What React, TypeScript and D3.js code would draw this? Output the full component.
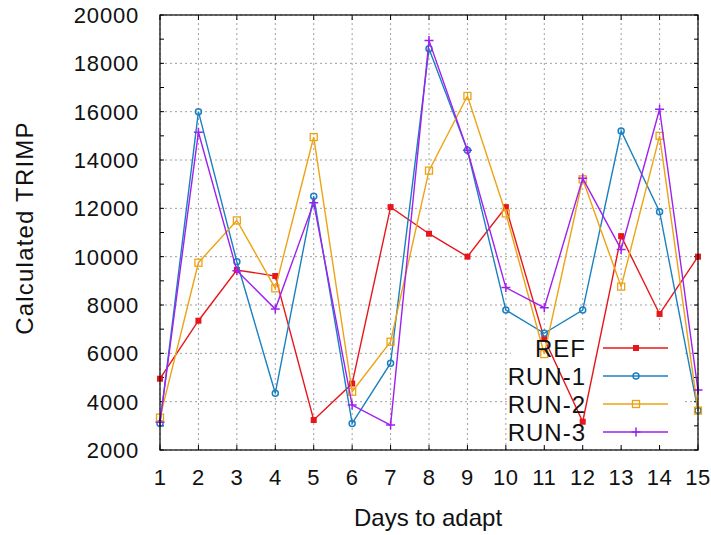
import * as d3 from 'd3';
import React from 'react';

const days = [1, 2, 3, 4, 5, 6, 7, 8, 9, 10, 11, 12, 13, 14, 15];
const refValues = [4950, 7350, 9450, 9200, 3240, 4750, 12050, 10950, 10000, 12050, 6600, 3170, 10850, 7630, 10000];
const run1Values = [3100, 16000, 9790, 4350, 12500, 3100, 5590, 18600, 14400, 7790, 6830, 7790, 15200, 11860, 3630];
const run2Values = [3340, 9750, 11500, 8690, 14950, 4410, 6480, 13560, 16650, 11790, 5970, 13200, 8760, 15000, 3630];
const run3Values = [3150, 15150, 9420, 7830, 12230, 3860, 3030, 18940, 14400, 8720, 7890, 13240, 10300, 16100, 4480];
const yTicks = [2000, 4000, 6000, 8000, 10000, 12000, 14000, 16000, 18000, 20000];
const yMinorTicks = [3000, 5000, 7000, 9000, 11000, 13000, 15000, 17000, 19000];

const seriesNames = ['REF', 'RUN-1', 'RUN-2', 'RUN-3'];
const seriesColors = ['#e8161a', '#1b80c0', '#eda314', '#a020f0'];
const seriesMarkers = ['fsquare', 'circle', 'square', 'plus'];
const seriesValues = [refValues, run1Values, run2Values, run3Values];

const W = 711;
const H = 535;
const margin = { top: 15, right: 13, bottom: 85, left: 160 };
const font = '"Liberation Sans", Arial, sans-serif';

function Marker({ kind, x, y, color }: { kind: string; x: number; y: number; color: string }) {
  if (kind === 'fsquare') return <rect x={x - 3} y={y - 3} width={6} height={6} fill={color} />;
  if (kind === 'circle') return <circle cx={x} cy={y} r={3} fill="none" stroke={color} strokeWidth={1.5} />;
  if (kind === 'square')
    return <rect x={x - 3.5} y={y - 3.5} width={7} height={7} fill="none" stroke={color} strokeWidth={1.3} />;
  return (
    <path d={`M${x - 4.5},${y}H${x + 4.5}M${x},${y - 4.5}V${y + 4.5}`} stroke={color} strokeWidth={1.5} />
  );
}

export default function App() {
  const x = d3.scaleLinear().domain([1, 15]).range([margin.left, W - margin.right]);
  const y = d3.scaleLinear().domain([2000, 20000]).range([H - margin.bottom, margin.top]);
  const x0 = x.range()[0], x1 = x.range()[1];
  const y0 = y.range()[0], y1 = y.range()[1];

  const line = d3.line<number>()
    .x((_, i) => x(days[i]))
    .y(d => y(d));

  // legend box (hides the grid behind it)
  const legend = { left: 511, top: 333, right: 684, bottom: 448 };
  const rowY = (i: number) => 348 + i * 28;

  return (
    <svg width={W} height={H} style={{ position: 'absolute', left: 0, top: 0, background: '#fff' }}>
      <rect width={W} height={H} fill="#fff" />
      {/* grid */}
      <g stroke="#a0a0a0" strokeWidth={1} strokeDasharray="2,3">
        {days.map(d => (
          <line key={'gx' + d} x1={x(d)} x2={x(d)} y1={y0} y2={y1} />
        ))}
        {yTicks.map(t => (
          <line key={'gy' + t} x1={x0} x2={x1} y1={y(t)} y2={y(t)} />
        ))}
      </g>
      <rect x={legend.left} y={legend.top} width={legend.right - legend.left} height={legend.bottom - legend.top} fill="#fff" />

      {/* ticks on all sides */}
      <g stroke="#000" strokeWidth={1}>
        {days.map(d => (
          <g key={'tx' + d}>
            <line x1={x(d)} x2={x(d)} y1={y0} y2={y0 - 5} />
            <line x1={x(d)} x2={x(d)} y1={y1} y2={y1 + 5} />
          </g>
        ))}
        {yTicks.concat(yMinorTicks).map(t => (
          <g key={'ty' + t}>
            <line x1={x0} x2={x0 + 4} y1={y(t)} y2={y(t)} />
            <line x1={x1} x2={x1 - 4} y1={y(t)} y2={y(t)} />
          </g>
        ))}
      </g>

      {/* series */}
      {seriesValues.map((vals, s) => (
        <g key={seriesNames[s]}>
          <path d={line(vals) || ''} fill="none" stroke={seriesColors[s]} strokeWidth={1.4} />
          {vals.map((v, i) => (
            <Marker key={i} kind={seriesMarkers[s]} x={x(days[i])} y={y(v)} color={seriesColors[s]} />
          ))}
        </g>
      ))}

      <rect x={x0} y={y1} width={x1 - x0} height={y0 - y1} fill="none" stroke="#000" strokeWidth={1.2} />

      {/* tick labels */}
      <g fontFamily={font} fontSize={22} fill="#111">
        {yTicks.map(t => (
          <text key={'ly' + t} x={139} y={y(t)} dy="0.36em" textAnchor="end" letterSpacing={0.8}>
            {t}
          </text>
        ))}
        {days.map(d => (
          <text key={'lx' + d} x={x(d)} y={485} textAnchor="middle" letterSpacing={0.5}>
            {d}
          </text>
        ))}
      </g>

      {/* axis titles */}
      <text x={428} y={526} textAnchor="middle" fontFamily={font} fontSize={24} fill="#111">
        Days to adapt
      </text>
      <text
        transform={`translate(33,228) rotate(-90)`}
        textAnchor="middle"
        fontFamily={font}
        fontSize={24}
        letterSpacing={1.2}
        fill="#111"
      >
        Calculated TRIMP
      </text>

      {/* legend */}
      {seriesNames.map((name, i) => (
        <g key={'lg' + name}>
          <text x={586} y={rowY(i) + 8.5} textAnchor="end" fontFamily={font} fontSize={24} letterSpacing={1} fill="#111">
            {name}
          </text>
          <line x1={603} x2={668} y1={rowY(i)} y2={rowY(i)} stroke={seriesColors[i]} strokeWidth={1.4} />
          <Marker kind={seriesMarkers[i]} x={636} y={rowY(i)} color={seriesColors[i]} />
        </g>
      ))}
    </svg>
  );
}
